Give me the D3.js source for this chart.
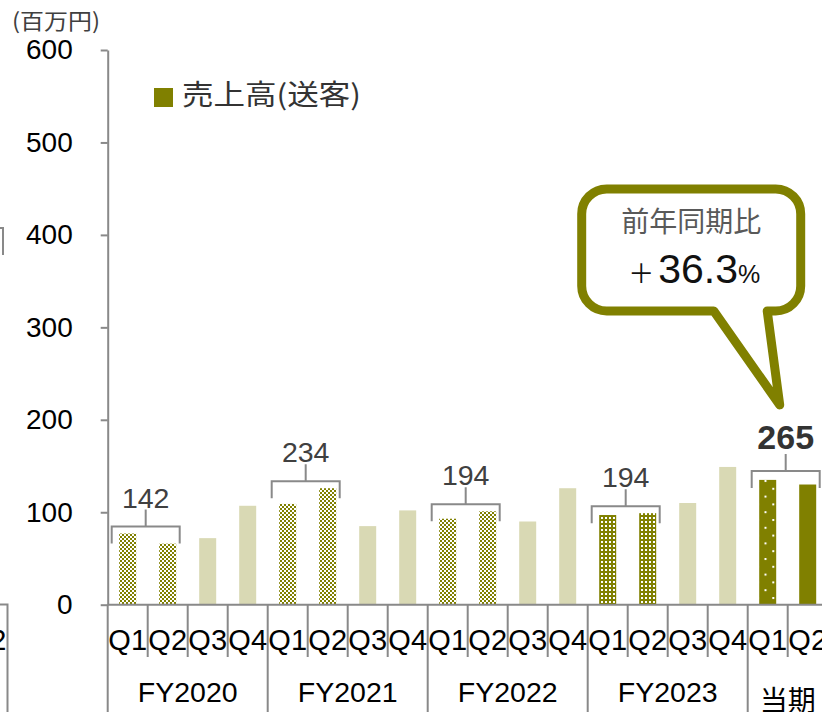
<!DOCTYPE html>
<html>
<head>
<meta charset="utf-8">
<script src="https://cdn.jsdelivr.net/npm/d3@7"></script>
<style>
  body { margin: 0; background: #fff; }
  text { font-family: "Liberation Sans", Arial, sans-serif; }
  .jp { font-family: "Noto Sans CJK JP", "Noto Sans", sans-serif; }
</style>
</head>
<body>
<svg id="chart" width="822" height="712"></svg>
<script>
// data (百万円)
const years = ["FY2020", "FY2021", "FY2022", "FY2023", "当期"];
const quarters = ["Q1", "Q2", "Q3", "Q4"];
const sales = [
  [77, 66, 72, 107],
  [109, 126, 85, 102],
  [93, 101, 90, 126],
  [97, 99, 110, 149],
  [135, 130]
];
const halfTotals = ["142", "234", "194", "194", "265"];
const yTicks = [0, 100, 200, 300, 400, 500, 600];
const yoyLabel = "前年同期比";
const yoyValue = "36.3";

const olive = "#808000";
const light = "#d9d9b4";
const grey = "#898989";

var rows = [];
years.forEach((yr, yi) => {
  sales[yi].forEach((v, qi) => {
    rows.push({ year: yr, yi: yi, q: quarters[qi], qi: qi, value: v, key: yr + "-" + quarters[qi] });
  });
});

var svg = d3.select("#chart");
var x0 = 107.7, step = 40;

var x = d3.scaleBand()
  .domain(rows.map(d => d.key))
  .range([x0, x0 + step * rows.length])
  .paddingInner(0.575)
  .paddingOuter(0.2875);

var slot = d3.scaleBand()
  .domain(rows.map(d => d.key))
  .range([x0, x0 + step * rows.length]);

var y = d3.scaleLinear().domain([0, 600]).range([604.7, 50]);

// patterns
var defs = svg.append("defs");
var checker = defs.append("pattern").attr("id", "checker")
  .attr("patternUnits", "userSpaceOnUse").attr("width", 4).attr("height", 4);
checker.append("rect").attr("width", 4).attr("height", 4).attr("fill", "#fff");
checker.append("rect").attr("width", 2).attr("height", 2).attr("fill", olive);
checker.append("rect").attr("x", 2).attr("y", 2).attr("width", 2).attr("height", 2).attr("fill", olive);

var grid = defs.append("pattern").attr("id", "grid")
  .attr("patternUnits", "userSpaceOnUse").attr("width", 4).attr("height", 4);
grid.append("rect").attr("width", 4).attr("height", 4).attr("fill", olive);
grid.append("rect").attr("x", 1).attr("y", 1).attr("width", 2).attr("height", 2).attr("fill", "#fff");

var dots = defs.append("pattern").attr("id", "dots")
  .attr("patternUnits", "userSpaceOnUse").attr("x", 764.5).attr("y", 480)
  .attr("width", 15.6).attr("height", 15.6);
dots.append("rect").attr("width", 15.6).attr("height", 15.6).attr("fill", olive);
dots.append("rect").attr("x", 0).attr("y", 0).attr("width", 2).attr("height", 2).attr("fill", "#fff");
dots.append("rect").attr("x", 7.8).attr("y", 7.8).attr("width", 2).attr("height", 2).attr("fill", "#fff");

function fillOf(d) {
  if (d.qi >= 2) return light;
  if (d.yi <= 2) return "url(#checker)";
  if (d.yi === 3) return "url(#grid)";
  return d.qi === 0 ? "url(#dots)" : olive;
}

// bars
svg.append("g").selectAll("rect")
  .data(rows).enter().append("rect")
  .attr("x", d => x(d.key))
  .attr("y", d => y(d.value))
  .attr("width", x.bandwidth())
  .attr("height", d => y(0) - y(d.value))
  .attr("fill", fillOf);

// y axis
var yAxis = svg.append("g")
  .attr("transform", "translate(" + x0 + ",0)")
  .call(d3.axisLeft(y).tickValues(yTicks).tickSize(7).tickSizeOuter(0).tickPadding(28));
yAxis.select(".domain").attr("stroke", grey).attr("stroke-width", 2);
yAxis.selectAll(".tick line").attr("stroke", grey).attr("stroke-width", 2);
yAxis.selectAll(".tick text")
  .attr("fill", "#000").attr("font-size", 28)
  .attr("font-family", "Liberation Sans, Arial, sans-serif");

// category axis
svg.append("line")
  .attr("x1", x0).attr("x2", 822).attr("y1", y(0)).attr("y2", y(0))
  .attr("stroke", grey).attr("stroke-width", 2);

var bounds = d3.range(rows.length + 1).map(k => ({
  k: k,
  x: k < rows.length ? slot(rows[k].key) : slot(rows[k - 1].key) + slot.bandwidth(),
  long: k === 0 || (k < rows.length && rows[k].qi === 0)
}));
svg.append("g").selectAll("line")
  .data(bounds).enter().append("line")
  .attr("x1", d => d.x).attr("x2", d => d.x)
  .attr("y1", y(0)).attr("y2", d => d.long ? 712 : 657)
  .attr("stroke", grey).attr("stroke-width", 2);

svg.append("g").selectAll("text")
  .data(rows).enter().append("text")
  .attr("x", d => slot(d.key) + slot.bandwidth() / 2)
  .attr("y", 650)
  .attr("text-anchor", "middle")
  .attr("font-size", 29)
  .attr("fill", "#000")
  .text(d => d.q);

var yearInfo = years.map((yr, yi) => {
  var rs = rows.filter(d => d.yi === yi);
  var first = slot(rs[0].key), last = slot(rs[rs.length - 1].key) + slot.bandwidth();
  var c1 = x(rs[0].key) + x.bandwidth() / 2, c2 = x(rs[1].key) + x.bandwidth() / 2;
  return { year: yr, yi: yi, cx: (first + last) / 2, pc: (c1 + c2) / 2,
           top: y(Math.max(rs[0].value, rs[1].value)) };
});

svg.append("g").selectAll("text")
  .data(yearInfo).enter().append("text")
  .attr("class", d => d.yi === 4 ? "jp" : null)
  .attr("x", d => d.cx)
  .attr("y", d => d.yi === 4 ? 711 : 701.5)
  .attr("text-anchor", "middle")
  .attr("font-size", d => d.yi === 4 ? 28 : 28.5)
  .attr("fill", "#000")
  .text(d => d.year);

// H1 brackets + totals
var br = svg.append("g").selectAll("g")
  .data(yearInfo).enter().append("g");
br.append("path")
  .attr("d", d => {
    var t = d.top - (d.yi === 4 ? 9 : 7);
    return "M" + (d.pc - 36) + "," + (t + 17) + "V" + t + "H" + (d.pc + 32) + "V" + (t + 17) +
      "M" + (d.pc - 2) + "," + t + "V" + (t - 17);
  })
  .attr("fill", "none").attr("stroke", grey).attr("stroke-width", 2);
br.append("text")
  .attr("x", d => d.pc - 2)
  .attr("y", d => d.top - (d.yi === 4 ? 9 : 7) - 17 - (d.yi === 4 ? 5 : 2))
  .attr("text-anchor", "middle")
  .attr("font-size", d => d.yi === 4 ? 34 : 28.5)
  .attr("font-weight", d => d.yi === 4 ? "bold" : null)
  .attr("fill", d => d.yi === 4 ? "#333" : "#404040")
  .text((d, i) => halfTotals[i]);

// unit label
svg.append("text").attr("class", "jp")
  .attr("x", 12).attr("y", 29)
  .attr("font-size", 22).attr("fill", "#404040")
  .attr("textLength", 88).attr("lengthAdjust", "spacingAndGlyphs")
  .text("(百万円)");

// legend
svg.append("rect").attr("x", 154).attr("y", 88).attr("width", 19).attr("height", 19).attr("fill", olive);
svg.append("text").attr("class", "jp")
  .attr("x", 182).attr("y", 104.5)
  .attr("font-size", 28).attr("fill", "#333")
  .attr("textLength", 179).attr("lengthAdjust", "spacingAndGlyphs")
  .text("売上高(送客)");

// callout pointing at the current H1 total
var cur = yearInfo[4];
var labelTop = cur.top - 9 - 17 - 5 - 24;
var tx = cur.pc - 8, ty = labelTop - 20;
var R = tx + 21, L = tx - 198, B = ty - 94, T = B - 122, r = 25;
var p = d3.path();
p.moveTo(L + r, T);
p.lineTo(R - r, T);
p.arcTo(R, T, R, T + r, r);
p.lineTo(R, B - r);
p.arcTo(R, B, R - r, B, r);
p.lineTo(tx - 12.5, B);
p.lineTo(tx, ty);
p.lineTo(tx - 66, B);
p.lineTo(L + r, B);
p.arcTo(L, B, L, B - r, r);
p.lineTo(L, T + r);
p.arcTo(L, T, L + r, T, r);
p.closePath();
svg.append("path").attr("d", p.toString())
  .attr("fill", "#fff").attr("stroke", olive).attr("stroke-width", 9)
  .attr("stroke-linejoin", "round");

var cx = (L + R) / 2;
svg.append("text").attr("class", "jp")
  .attr("x", cx).attr("y", T + 43)
  .attr("text-anchor", "middle").attr("font-size", 28).attr("fill", "#595959")
  .text(yoyLabel);
var t2 = svg.append("text").attr("x", cx + 3).attr("y", T + 94).attr("text-anchor", "middle").attr("fill", "#111");
t2.append("tspan").attr("class", "jp").attr("font-size", 26).text("＋");
t2.append("tspan").attr("font-size", 41).attr("dx", 4).text(yoyValue);
t2.append("tspan").attr("font-size", 25).text("%");

// edge of the neighbouring chart, clipped at the left border
svg.append("path")
  .attr("d", "M0,604.5H7.5V712M0,228H3V255")
  .attr("fill", "none").attr("stroke", grey).attr("stroke-width", 2);
svg.append("text").attr("x", 6.5).attr("y", 650)
  .attr("text-anchor", "end").attr("font-size", 29).attr("fill", "#000")
  .text("Q2");
</script>
</body>
</html>
